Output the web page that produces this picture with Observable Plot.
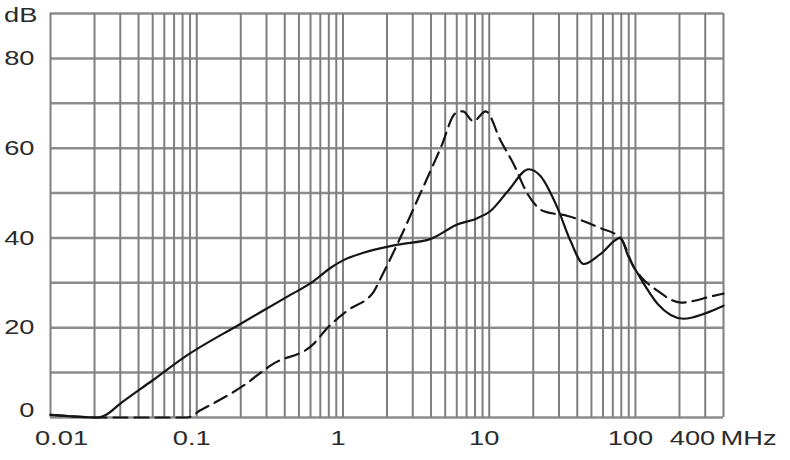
<!DOCTYPE html>
<html><head><meta charset="utf-8">
<script src="https://cdn.jsdelivr.net/npm/d3@7"></script>
<script src="https://cdn.jsdelivr.net/npm/@observablehq/plot@0.6"></script>
<style>body{margin:0;background:#fff} svg{display:block}</style>
</head><body><div id="chart"></div>
<script>
// Solid curve
const solidFreq = [0.01, 0.015, 0.021, 0.024, 0.03, 0.05, 0.081, 0.2, 0.4, 0.63, 0.82, 1.0, 1.38, 2.36, 3.98, 6.05, 8.3, 10.2, 13.4, 18.6, 22.4, 29.3, 36, 44.2, 57.5, 79, 89, 108, 142, 214, 300, 400];
const solidDb   = [0.6, 0.2, 0, 0.6, 3.1, 8.3, 13.3, 20.9, 26.6, 30.4, 33.3, 35, 36.7, 38.5, 39.8, 43, 44.4, 46, 50.4, 55.3, 53.8, 46.7, 39.3, 34.2, 36.4, 40, 36, 31.1, 25.3, 22, 23.2, 24.9];
// Dashed curve
const dashedFreq = [0.01, 0.015, 0.02, 0.086, 0.106, 0.2, 0.335, 0.63, 0.785, 1.07, 1.62, 1.81, 2.36, 3.39, 4.65, 5.9, 6.6, 7.8, 9.45, 12, 14.7, 18.3, 23.4, 34.4, 57.5, 79, 98, 108, 142, 204, 341, 400];
const dashedDb   = [0.6, 0.2, 0, 0, 1.6, 6.7, 12, 16.4, 20, 23.8, 28, 31, 38.7, 50, 60, 67.8, 68.2, 66, 68.2, 61.6, 56.4, 49.8, 46, 44.9, 42.2, 40, 33.3, 31.5, 28.2, 25.6, 27.1, 27.6];

// Grid and tick labels
const xGrid = [0.01,0.02,0.03,0.04,0.05,0.06,0.07,0.08,0.09,
               0.1,0.2,0.3,0.4,0.5,0.6,0.7,0.8,0.9,
               1,2,3,4,5,6,7,8,9,
               10,20,30,40,50,60,70,80,90,
               100,200,300,400];
const yGrid = [0,10,20,30,40,50,60,70,80,90];
const xTickValues = [0.1, 1, 10, 100];
const xTickLabels = ["0.1", "1", "10", "100"];
const yTickValues = [20, 40, 60, 80];
const yTickLabels = ["20", "40", "60", "80"];
const xFirstLabel = {value: 0.01, label: "0.01"};
const xLastLabel = {value: 400, label: "400"};
const xUnit = {value: 400, label: "MHz"};
const yZeroLabel = {value: 0, label: "0"};
const yUnit = {value: 90, label: "dB"};

const solid = solidFreq.map((f, i) => ({f, db: solidDb[i]}));
const dashed = dashedFreq.map((f, i) => ({f, db: dashedDb[i]}));
const fontCommon = {fontSize: 21, fill: "#2b2b2b"};

const chart = Plot.plot({
  width: 790,
  height: 460,
  marginLeft: 50,
  marginRight: 67,
  marginTop: 13,
  marginBottom: 43,
  style: {fontFamily: "'Liberation Sans', Arial, sans-serif", background: "#fff"},
  x: {type: "log", domain: [0.01, 400], axis: null},
  y: {domain: [0, 90], axis: null},
  marks: [
    Plot.ruleY(yGrid, {stroke: "#8c8c8c", strokeWidth: 2.5}),
    Plot.ruleX(xGrid, {stroke: "#7f7f7f", strokeWidth: 2}),
    Plot.line(solid, {x: "f", y: "db", stroke: "#151515", strokeWidth: 2.2, curve: "monotone-x"}),
    Plot.line(dashed, {x: "f", y: "db", stroke: "#151515", strokeWidth: 2.2, strokeDasharray: "14,7", curve: "monotone-x"}),
    // x labels
    Plot.text(xTickValues, {x: d => d, text: (d, i) => xTickLabels[i], frameAnchor: "bottom", dy: 27, dx: -5, textAnchor: "middle", ...fontCommon}),
    Plot.text([xFirstLabel], {x: "value", text: "label", frameAnchor: "bottom", dy: 27, dx: 11, textAnchor: "middle", ...fontCommon}),
    Plot.text([xLastLabel], {x: "value", text: "label", frameAnchor: "bottom", dy: 27, dx: -31, textAnchor: "middle", ...fontCommon}),
    Plot.text([xUnit], {x: "value", text: "label", frameAnchor: "bottom", dy: 27, dx: -3, textAnchor: "start", ...fontCommon}),
    // y labels
    Plot.text(yTickValues, {y: d => d, text: (d, i) => yTickLabels[i], frameAnchor: "left", dx: -16, textAnchor: "end", ...fontCommon}),
    Plot.text([yZeroLabel], {y: "value", text: "label", frameAnchor: "left", dx: -16, dy: -7, textAnchor: "end", ...fontCommon}),
    Plot.text([yUnit], {y: "value", text: "label", frameAnchor: "left", dx: -13, dy: 2, textAnchor: "end", ...fontCommon})
  ]
});

// Horizontally stretch the label glyphs as in the reference
chart.querySelectorAll("text").forEach(t => {
  const x = t.getAttribute("x");
  if (x != null && +x !== 0) t.setAttribute("x", +x / 1.3);
  const tr = t.getAttribute("transform") || "";
  t.setAttribute("transform", (tr + " scale(1.3,1)").trim());
});

document.getElementById("chart").appendChild(chart);
</script>
</body></html>
